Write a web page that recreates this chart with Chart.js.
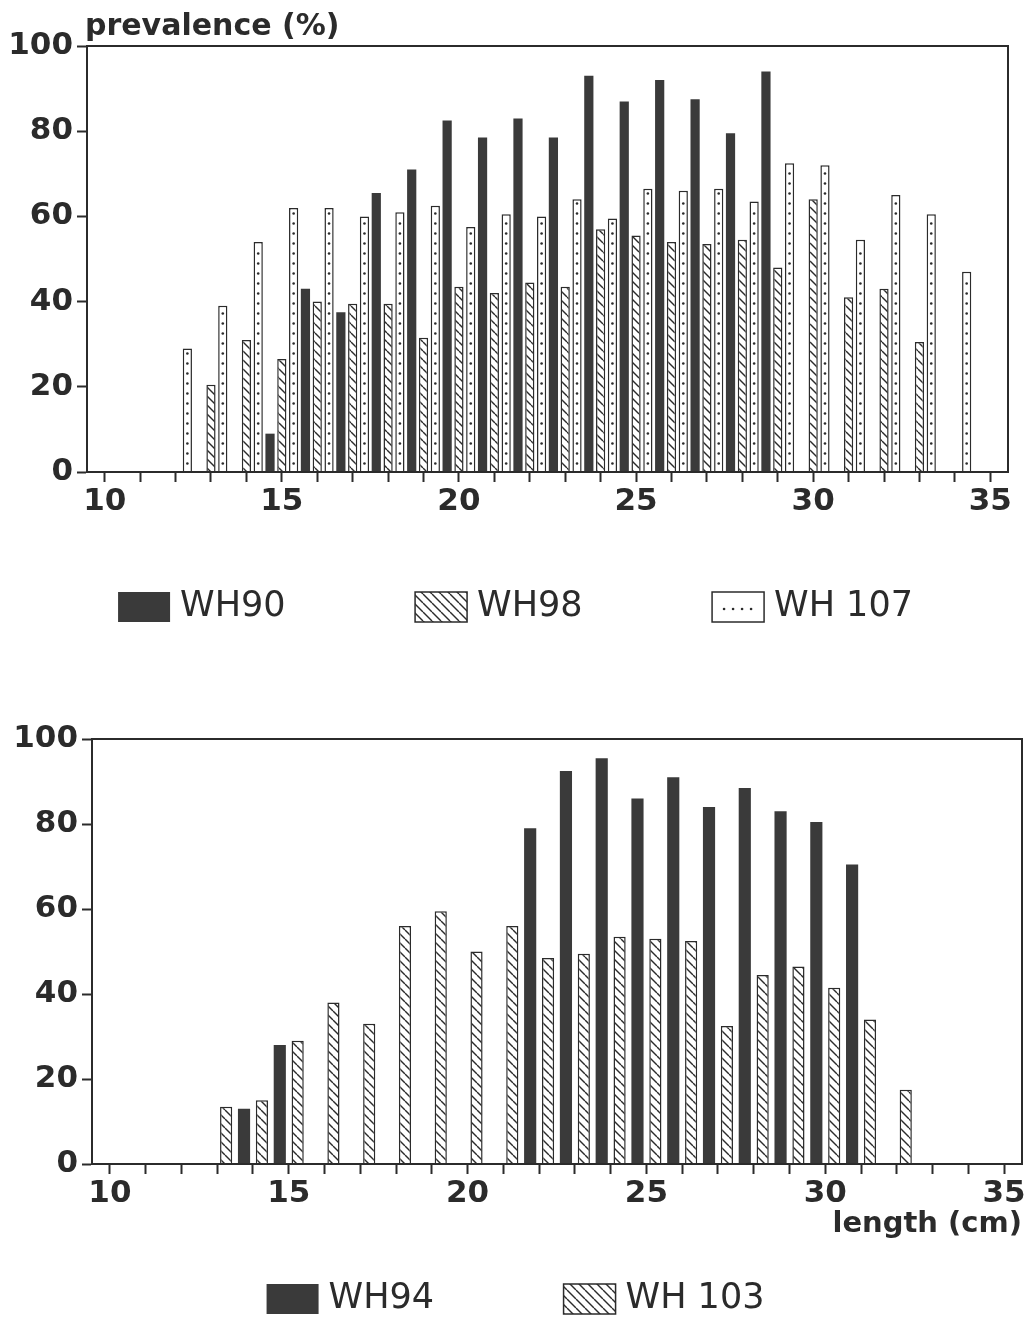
<!DOCTYPE html>
<html>
<head>
<meta charset="utf-8">
<script src="https://cdn.jsdelivr.net/npm/chart.js@4.4.1/dist/chart.umd.min.js"></script>
<style>
  body { margin: 0; background: #fff; overflow: hidden; }
  canvas { display: block; }
</style>
</head>
<body>
<canvas id="topChart" width="1031" height="660"></canvas>
<canvas id="bottomChart" width="1031" height="660"></canvas>
<script>
// length classes (cm)
var lengths = ['10', '11', '12', '13', '14', '15', '16', '17', '18', '19', '20', '21', '22',
               '23', '24', '25', '26', '27', '28', '29', '30', '31', '32', '33', '34', '35'];
var prevalenceTicks = [0, 20, 40, 60, 80, 100];

// prevalence (%) per length class
var wh90  = [null, null, null, null, null, 9, 43, 37.5, 65.5, 71, 82.5, 78.5, 83, 78.5, 93, 87, 92, 87.5, 79.5, 94, null, null, null, null, null, null];
var wh98  = [null, null, null, 20.5, 31, 26.5, 40, 39.5, 39.5, 31.5, 43.5, 42, 44.5, 43.5, 57, 55.5, 54, 53.5, 54.5, 48, 64, 41, 43, 30.5, null, null];
var wh107 = [null, null, 29, 39, 54, 62, 62, 60, 61, 62.5, 57.5, 60.5, 60, 64, 59.5, 66.5, 66, 66.5, 63.5, 72.5, 72, 54.5, 65, 60.5, 47, null];

var wh94  = [null, null, null, null, 13, 28, null, null, null, null, null, null, 79, 92.5, 95.5, 86, 91, 84, 88.5, 83, 80.5, 70.5, null, null, null, null];
var wh103 = [null, null, null, 13.5, 15, 29, 38, 33, 56, 59.5, 50, 56, 48.5, 49.5, 53.5, 53, 52.5, 32.5, 44.5, 46.5, 41.5, 34, 17.5, null, null, null];

var ink = '#2b2b2b';
var solid = '#3a3a3a';
Chart.defaults.font.family = 'DejaVu Sans';
Chart.defaults.color = ink;

function hatchPattern(ctx) {
  var s = 9;
  var c = document.createElement('canvas');
  c.width = s; c.height = s;
  var g = c.getContext('2d');
  g.fillStyle = '#fff';
  g.fillRect(0, 0, s, s);
  g.strokeStyle = ink;
  g.lineWidth = 1.4;
  [-s, 0, s].forEach(function (k) {
    g.beginPath();
    g.moveTo(k, 0);
    g.lineTo(k + s, s);
    g.stroke();
  });
  return ctx.createPattern(c, 'repeat');
}

function dot(ctx, x, y) {
  ctx.beginPath();
  ctx.arc(x, y, 1.3, 0, Math.PI * 2);
  ctx.fill();
}

// box around the plot area
var frame = {
  id: 'frame',
  afterDatasetsDraw: function (chart) {
    var a = chart.chartArea, ctx = chart.ctx;
    ctx.save();
    ctx.strokeStyle = ink;
    ctx.lineWidth = 2;
    ctx.strokeRect(a.left, a.top, a.right - a.left, a.bottom - a.top);
    ctx.restore();
  }
};

// column of dots inside the dotted bars
var dots = {
  id: 'dots',
  afterDatasetsDraw: function (chart) {
    var ctx = chart.ctx;
    ctx.save();
    ctx.fillStyle = ink;
    chart.data.datasets.forEach(function (ds, i) {
      if (!ds.dotted) return;
      chart.getDatasetMeta(i).data.forEach(function (el, j) {
        if (ds.data[j] == null) return;
        for (var y = el.base - 8; y > el.y + 4; y -= 10) dot(ctx, el.x, y);
      });
    });
    ctx.restore();
  }
};

// one-row legend with wide, even spacing between the entries
var rowLegend = {
  id: 'rowLegend',
  afterDraw: function (chart, args, o) {
    var ctx = chart.ctx, sets = chart.data.datasets;
    ctx.save();
    ctx.font = o.size + 'px "DejaVu Sans"';
    var lastW = ctx.measureText(sets[sets.length - 1].label).width;
    var rowW = (sets.length - 1) * o.stride + o.boxWidth + o.gap + lastW;
    var x0 = chart.width / 2 - rowW / 2;
    var cy = chart.chartArea.bottom + o.offset;
    sets.forEach(function (ds, i) {
      var x = x0 + i * o.stride, top = cy - o.boxHeight / 2;
      ctx.fillStyle = ds.backgroundColor;
      ctx.fillRect(x, top, o.boxWidth, o.boxHeight);
      if (ds.borderWidth) {
        ctx.lineWidth = ds.borderWidth;
        ctx.strokeStyle = ds.borderColor;
        ctx.strokeRect(x, top, o.boxWidth, o.boxHeight);
      }
      ctx.fillStyle = ink;
      if (ds.dotted) {
        for (var k = 0; k < 4; k++) dot(ctx, x + 12 + k * 9, cy + 2);
      }
      ctx.textBaseline = 'middle';
      ctx.textAlign = 'left';
      ctx.fillText(ds.label, x + o.boxWidth + o.gap, cy);
    });
    ctx.restore();
  }
};

// y caption over the top-left corner of the plot
var yCaption = {
  id: 'yCaption',
  afterDraw: function (chart, args, o) {
    if (!o.text) return;
    var ctx = chart.ctx;
    ctx.save();
    ctx.fillStyle = ink;
    ctx.font = 'bold 30px "DejaVu Sans"';
    ctx.textBaseline = 'alphabetic';
    ctx.fillText(o.text, chart.chartArea.left - 2, chart.chartArea.top - 11);
    ctx.restore();
  }
};

function makeOptions(o) {
  return {
    responsive: false,
    animation: false,
    layout: { padding: o.padding },
    plugins: {
      tooltip: { enabled: false },
      legend: { display: false },
      yCaption: { text: o.yText || '' },
      rowLegend: { stride: 297, boxWidth: 52, boxHeight: 30, gap: 10, size: 35, offset: 135 }
    },
    scales: {
      x: {
        offset: true,
        grid: { offset: false, drawOnChartArea: false, tickLength: 10, tickWidth: 2, tickColor: ink },
        border: { color: ink, width: 2 },
        ticks: {
          autoSkip: false,
          maxRotation: 0,
          padding: 1,
          font: { size: 31, weight: 'bold' },
          callback: function (v) {
            var l = this.getLabelForValue(v);
            return (+l) % 5 === 0 ? l : '';
          }
        },
        title: o.xText ? { display: true, text: o.xText, align: 'end', padding: 0, font: { size: 29, weight: 'bold' } } : { display: false },
        afterFit: function (s) { s.height = o.xHeight; }
      },
      y: {
        min: 0,
        max: 100,
        afterBuildTicks: function (s) { s.ticks = prevalenceTicks.map(function (v) { return { value: v }; }); },
        grid: { drawOnChartArea: false, tickLength: 10, tickWidth: 2, tickColor: ink },
        border: { color: ink, width: 2 },
        ticks: { padding: 4, font: { size: 31, weight: 'bold' } },
        afterFit: function (s) { s.width = o.yWidth; }
      }
    }
  };
}

var topCanvas = document.getElementById('topChart');
var topChart = new Chart(topCanvas, {
  type: 'bar',
  data: {
    labels: lengths,
    datasets: [
      { label: 'WH90', data: wh90, backgroundColor: solid, borderWidth: 0,
        categoryPercentage: 1, barPercentage: 0.78 },
      { label: 'WH98', data: wh98, backgroundColor: hatchPattern(topCanvas.getContext('2d')), borderColor: ink, borderWidth: 1.5,
        categoryPercentage: 1, barPercentage: 0.78 },
      { label: 'WH 107', data: wh107, backgroundColor: '#fff', borderColor: ink, borderWidth: 1.5, dotted: true,
        categoryPercentage: 1, barPercentage: 0.78 }
    ]
  },
  options: makeOptions({ padding: { left: 0, right: 23, top: 46, bottom: 138 }, xHeight: 50, yWidth: 87, yText: 'prevalence (%)' }),
  plugins: [frame, dots, rowLegend, yCaption]
});

var bottomCanvas = document.getElementById('bottomChart');
var bottomChart = new Chart(bottomCanvas, {
  type: 'bar',
  data: {
    labels: lengths,
    datasets: [
      { label: 'WH94', data: wh94, backgroundColor: solid, borderWidth: 0,
        categoryPercentage: 1, barPercentage: 0.68 },
      { label: 'WH 103', data: wh103, backgroundColor: hatchPattern(bottomCanvas.getContext('2d')), borderColor: ink, borderWidth: 1.5,
        categoryPercentage: 1, barPercentage: 0.68 }
    ]
  },
  options: makeOptions({ padding: { left: 0, right: 9, top: 79, bottom: 78 }, xHeight: 78, yWidth: 92, xText: 'length (cm)' }),
  plugins: [frame, dots, rowLegend, yCaption]
});
</script>
</body>
</html>
